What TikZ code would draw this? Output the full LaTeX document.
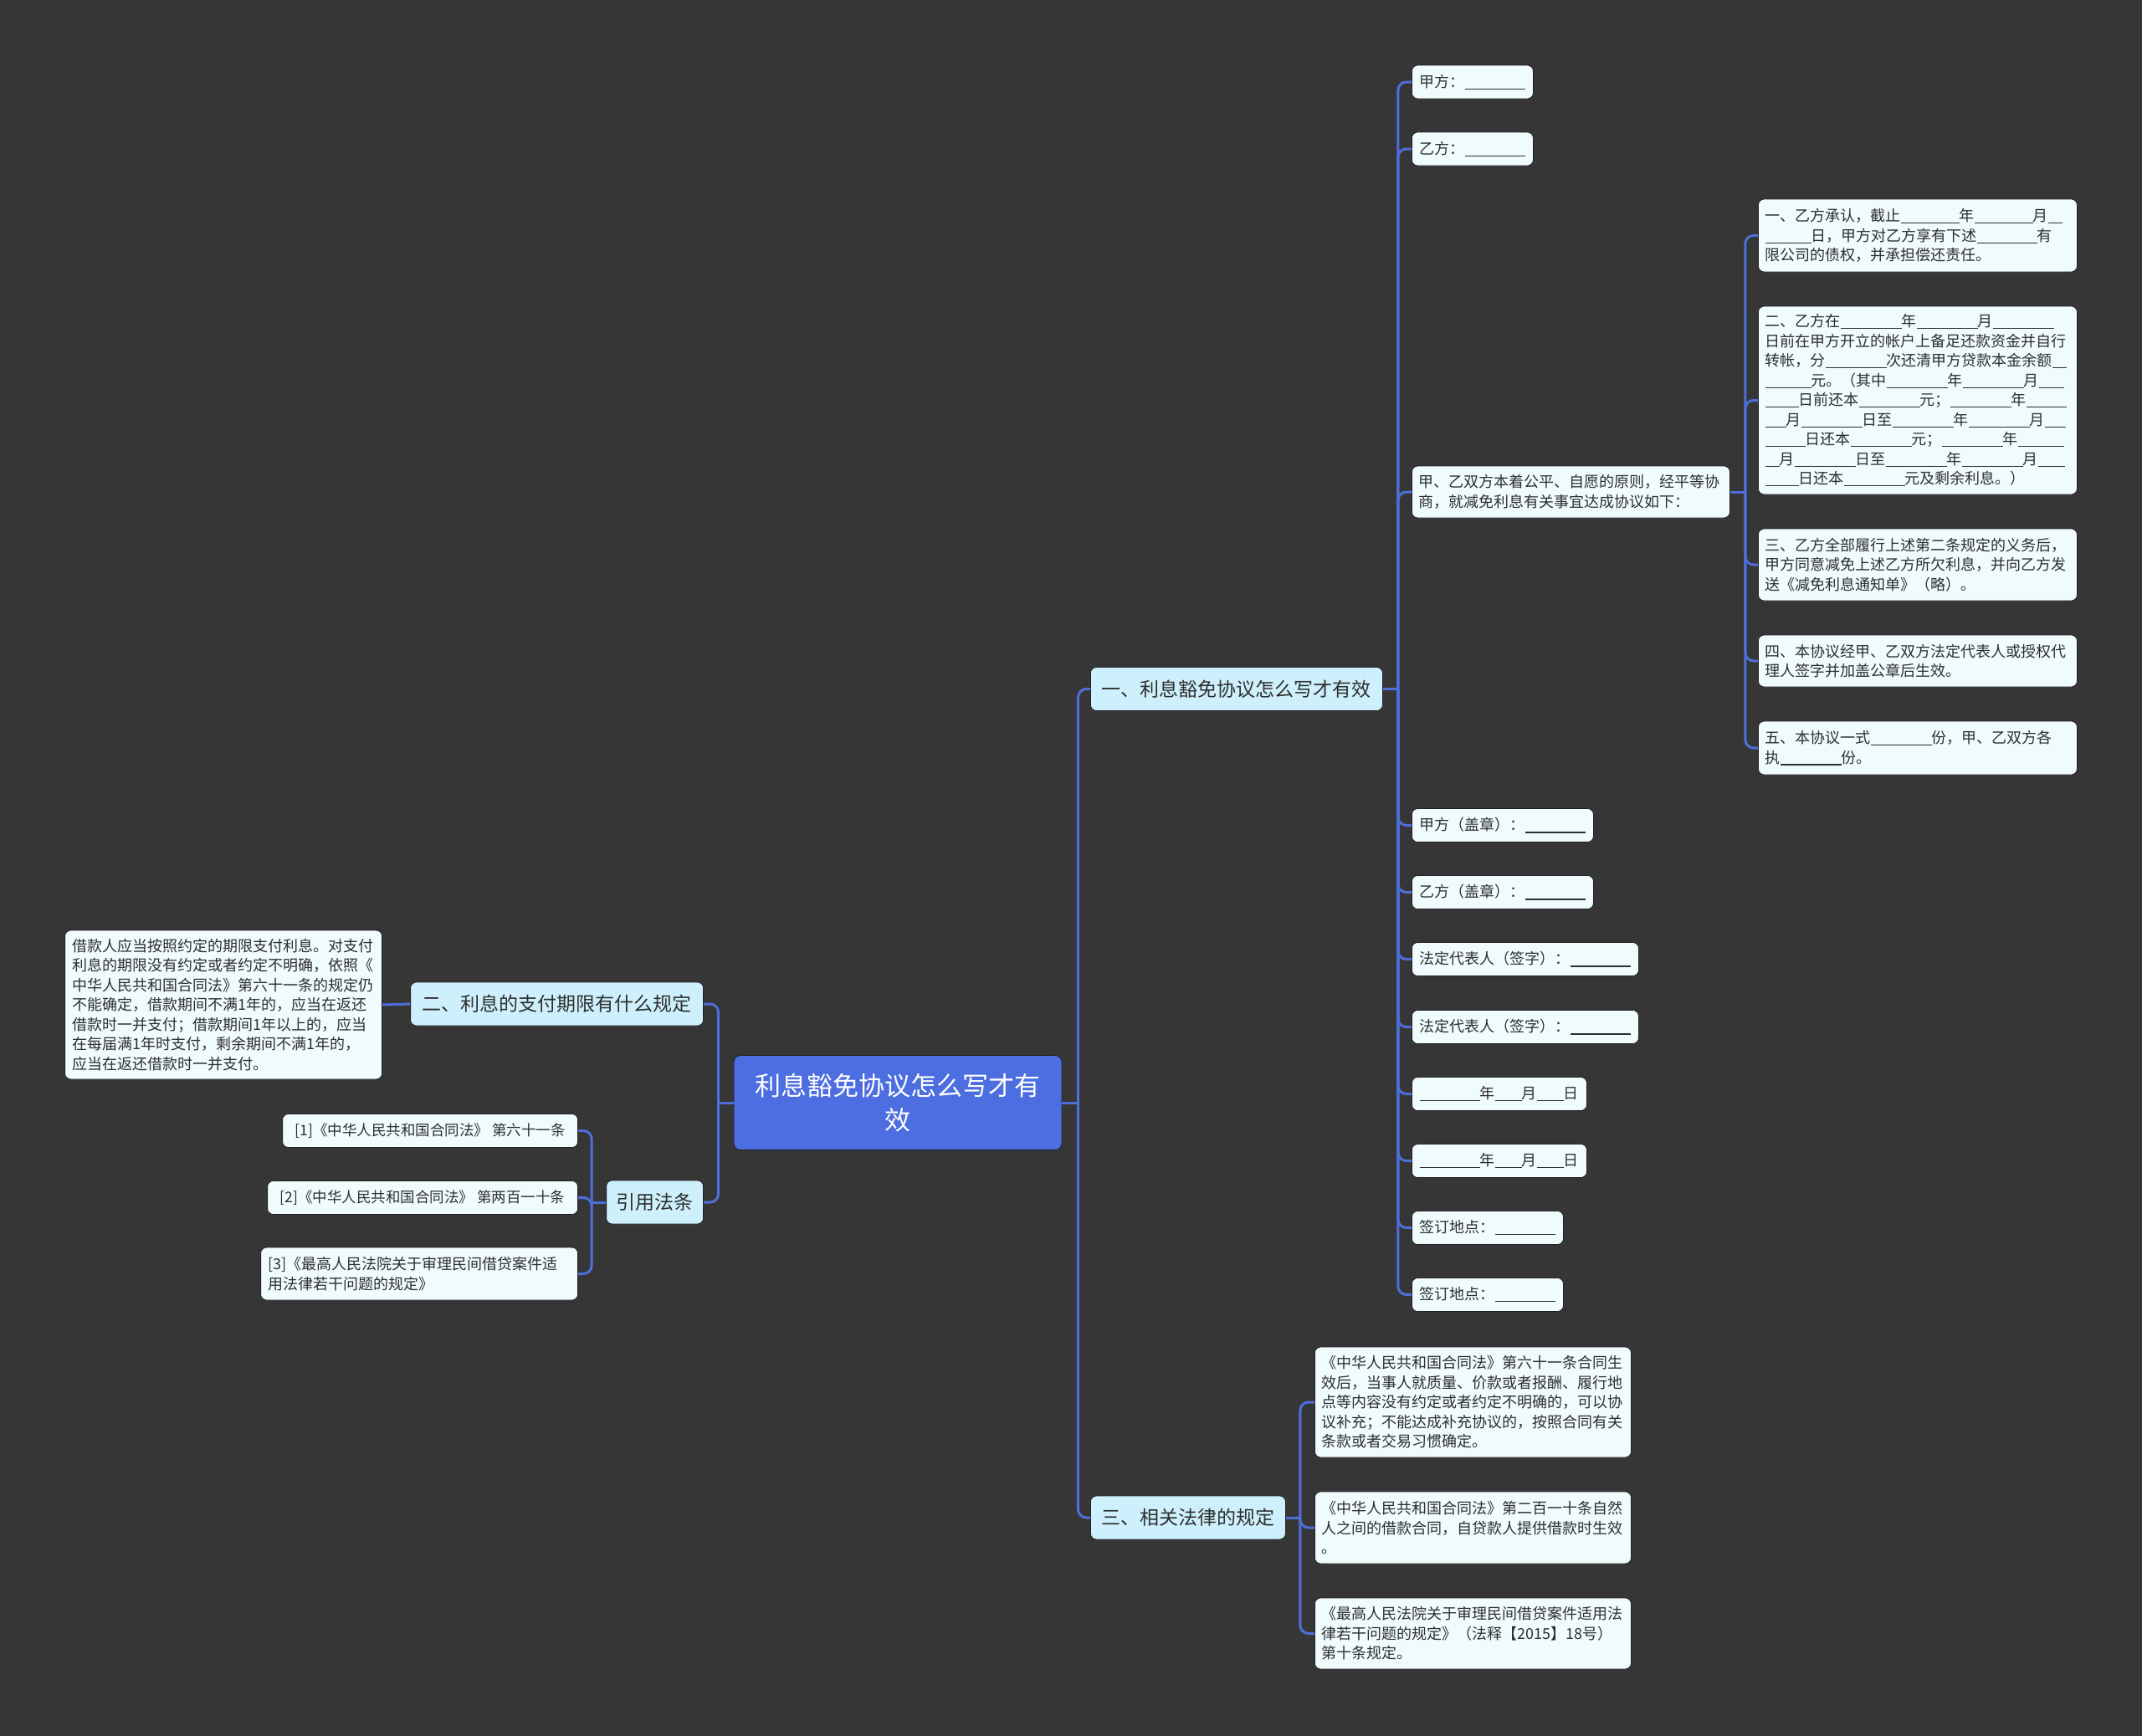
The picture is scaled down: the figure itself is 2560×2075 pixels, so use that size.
\documentclass[tikz,border=0pt]{standalone}
\usepackage{fontspec}
\setmainfont{Noto Sans CJK SC}
\usetikzlibrary{calc}
\definecolor{bgc}{HTML}{373636}
\definecolor{lineblue}{HTML}{4E6FDB}
\definecolor{rootblue}{HTML}{4C6EE0}
\definecolor{lvfill}{HTML}{CDF0FC}
\definecolor{leaffill}{HTML}{F0FBFE}
\definecolor{txt}{HTML}{2E2E2E}
\definecolor{edgec}{HTML}{222222}
\newcommand\bk[1]{\rule[-2.6pt]{#1pt}{1.2pt}}
\begin{document}
\begin{tikzpicture}[x=1pt,y=-1pt,
  root/.style={fill=rootblue, draw=edgec, line width=0.8pt, rounded corners=8pt, text=white,
    font=\fontsize{31}{41}\selectfont, align=center, minimum width=392pt, minimum height=113pt, inner sep=0pt},
  lvone/.style={fill=lvfill, draw=edgec, line width=0.8pt, rounded corners=7pt, text=txt,
    font=\fontsize{23}{28}\selectfont, minimum height=52pt, inner xsep=12pt, inner ysep=0pt},
  leaf/.style={fill=leaffill, draw=edgec, line width=0.8pt, rounded corners=7pt, text=txt,
    font=\fontsize{18}{23.5}\selectfont, minimum height=40pt, inner xsep=9pt, inner ysep=0pt},
  mleaf/.style={leaf, align=left, inner xsep=8.5pt},
  conn/.style={draw=lineblue, line width=3pt},
  rconn/.style={conn, rounded corners=10pt}]
\fill[bgc] (0,0) rectangle (2560,2075);
\useasboundingbox (0,0) rectangle (2560,2075);

% root and first level
\node[root] (root) at (1073,1318) {利息豁免协议怎么写才有\\效};
\node[lvone, minimum width=349pt, anchor=west] (n1) at (1303,823.5) {一、利息豁免协议怎么写才有效};
\node[lvone, minimum width=233pt, anchor=west] (n3) at (1303,1814) {三、相关法律的规定};
\node[lvone, minimum width=350pt, anchor=east] (n2) at (841,1200) {二、利息的支付期限有什么规定};
\node[lvone, minimum width=116pt, anchor=east] (ny) at (841,1437) {引用法条};

% children of n1
\node[leaf, minimum width=145pt, anchor=west] (a1) at (1687,98) {甲方：\bk{72}};
\node[leaf, minimum width=145pt, anchor=west] (a2) at (1687,178) {乙方：\bk{72}};
\node[mleaf, text width=363pt, minimum height=62pt, anchor=west] (a3) at (1687,588)
  {甲、乙双方本着公平、自愿的原则，经平等协\\商，就减免利息有关事宜达成协议如下：};
\node[leaf, minimum width=217pt, anchor=west] (a4) at (1687,986.5) {甲方（盖章）：\bk{72}};
\node[leaf, minimum width=217pt, anchor=west] (a5) at (1687,1066.5) {乙方（盖章）：\bk{72}};
\node[leaf, minimum width=271pt, anchor=west] (a6) at (1687,1146.5) {法定代表人（签字）：\bk{72}};
\node[leaf, minimum width=271pt, anchor=west] (a7) at (1687,1227.5) {法定代表人（签字）：\bk{72}};
\node[leaf, minimum width=209pt, anchor=west] (a8) at (1687,1307.5) {\bk{72}年\bk{32}月\bk{32}日};
\node[leaf, minimum width=209pt, anchor=west] (a9) at (1687,1387.5) {\bk{72}年\bk{32}月\bk{32}日};
\node[leaf, minimum width=181pt, anchor=west] (a10) at (1687,1467.5) {签订地点：\bk{72}};
\node[leaf, minimum width=181pt, anchor=west] (a11) at (1687,1547.5) {签订地点：\bk{72}};

% children of a3
\node[mleaf, text width=364pt, minimum height=87pt, anchor=west] (b1) at (2101,281.5)
  {一、乙方承认，截止\bk{70}年\bk{70}月\bk{17}\\\bk{55}日，甲方对乙方享有下述\bk{72}有\\限公司的债权，并承担偿还责任。};
\node[mleaf, text width=364pt, minimum height=225pt, anchor=west] (b2) at (2101,478.5)
  {二、乙方在\bk{73}年\bk{73}月\bk{73}\\
   日前在甲方开立的帐户上备足还款资金并自行\\
   转帐，分\bk{73}次还清甲方贷款本金余额\bk{17}\\
   \bk{55}元。（其中\bk{73}年\bk{73}月\bk{30}\\
   \bk{40}日前还本\bk{73}元；\bk{73}年\bk{48}\\
   \bk{25}月\bk{73}日至\bk{73}年\bk{73}月\bk{25}\\
   \bk{48}日还本\bk{73}元；\bk{73}年\bk{55}\\
   \bk{17}月\bk{73}日至\bk{73}年\bk{73}月\bk{32}\\
   \bk{40}日还本\bk{73}元及剩余利息。）};
\node[mleaf, text width=364pt, minimum height=86pt, anchor=west] (b3) at (2101,675)
  {三、乙方全部履行上述第二条规定的义务后，\\甲方同意减免上述乙方所欠利息，并向乙方发\\送《减免利息通知单》（略）。};
\node[mleaf, text width=364pt, minimum height=62pt, anchor=west] (b4) at (2101,790)
  {四、本协议经甲、乙双方法定代表人或授权代\\理人签字并加盖公章后生效。};
\node[mleaf, text width=364pt, minimum height=64pt, anchor=west] (b5) at (2101,894)
  {五、本协议一式\bk{73}份，甲、乙双方各\\执\bk{73}份。};

% children of n3
\node[mleaf, text width=361pt, minimum height=132pt, anchor=west] (c1) at (1571,1676)
  {《中华人民共和国合同法》第六十一条合同生\\效后，当事人就质量、价款或者报酬、履行地\\点等内容没有约定或者约定不明确的，可以协\\议补充；不能达成补充协议的，按照合同有关\\条款或者交易习惯确定。};
\node[mleaf, text width=361pt, minimum height=86pt, anchor=west] (c2) at (1571,1826)
  {《中华人民共和国合同法》第二百一十条自然\\人之间的借款合同，自贷款人提供借款时生效\\。};
\node[mleaf, text width=361pt, minimum height=85pt, anchor=west] (c3) at (1571,1952.5)
  {《最高人民法院关于审理民间借贷案件适用法\\律若干问题的规定》（法释【2015】18号）\\第十条规定。};

% child of n2
\node[mleaf, text width=362pt, minimum height=178pt, anchor=east] (d1) at (457,1201)
  {借款人应当按照约定的期限支付利息。对支付\\利息的期限没有约定或者约定不明确，依照《\\中华人民共和国合同法》第六十一条的规定仍\\不能确定，借款期间不满1年的，应当在返还\\借款时一并支付；借款期间1年以上的，应当\\在每届满1年时支付，剩余期间不满1年的，\\应当在返还借款时一并支付。};

% children of ny
\node[leaf, minimum width=353pt, anchor=east, font=\fontsize{17.5}{23.5}\selectfont] (e1) at (691,1351.5) {[1]《中华人民共和国合同法》 第六十一条};
\node[leaf, minimum width=371pt, anchor=east, font=\fontsize{17.5}{23.5}\selectfont] (e2) at (691,1431.5) {[2]《中华人民共和国合同法》 第两百一十条};
\node[mleaf, text width=362pt, minimum height=63pt, anchor=east] (e3) at (691,1522.5)
  {[3]《最高人民法院关于审理民间借贷案件适\\用法律若干问题的规定》};

% junctions
\coordinate (jR) at ($(root.east)+(19,0)$);
\coordinate (jL) at ($(root.west)+(-18,0)$);
\coordinate (j1) at ($(n1.east)+(18,0)$);
\coordinate (jA) at ($(a3.east)+(18,0)$);
\coordinate (j3) at ($(n3.east)+(17,0)$);
\coordinate (jY) at ($(ny.west)+(-17,0)$);

% connectors
\draw[conn] (root.east) -- (jR);
\draw[conn] (root.west) -- (jL);
\foreach \c in {n1,n3} \draw[rconn] (jR) |- (\c.west);
\foreach \c in {n2,ny} \draw[rconn] (jL) |- (\c.east);
\draw[conn] (n1.east) -- (j1);
\foreach \c in {a1,a2,a3,a4,a5,a6,a7,a8,a9,a10,a11} \draw[rconn] (j1) |- (\c.west);
\draw[conn] (a3.east) -- (jA);
\foreach \c in {b1,b2,b3,b4,b5} \draw[rconn] (jA) |- (\c.west);
\draw[conn] (n3.east) -- (j3);
\foreach \c in {c1,c2,c3} \draw[rconn] (j3) |- (\c.west);
\draw[conn] (n2.west) -- (d1.east);
\draw[conn] (ny.west) -- (jY);
\foreach \c in {e1,e2,e3} \draw[rconn] (jY) |- (\c.east);
\end{tikzpicture}
\end{document}
